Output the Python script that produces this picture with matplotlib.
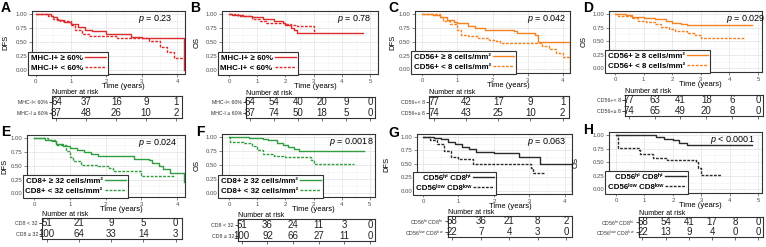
import matplotlib
matplotlib.use('Agg')
import matplotlib.pyplot as plt
from matplotlib.ticker import MultipleLocator

plt.rcParams['font.family'] = ['Liberation Sans', 'DejaVu Sans']
plt.rcParams['mathtext.fontset'] = 'custom'
plt.rcParams['mathtext.rm'] = 'Liberation Sans'
plt.rcParams['mathtext.it'] = 'Liberation Sans:italic'
plt.rcParams['mathtext.bf'] = 'Liberation Sans:bold'

W, H = 766, 247

# ---- survival curves (time in years, survival probability) ----
A_hi_t = [0, 0.45, 0.5, 0.6, 0.8, 1.0, 1.2, 1.4, 1.6, 2.0, 2.7, 3.0, 4.2, 4.2]
A_hi_s = [1.0, 0.97, 0.94, 0.9, 0.86, 0.82, 0.77, 0.72, 0.7, 0.65, 0.6, 0.58, 0.58, 0.0]
A_lo_t = [0, 0.35, 0.5, 0.7, 1.0, 1.1, 1.3, 1.5, 2.3, 3.2, 3.5, 3.7, 3.9, 4.2]
A_lo_s = [1.0, 0.96, 0.92, 0.88, 0.8, 0.72, 0.64, 0.61, 0.57, 0.52, 0.42, 0.33, 0.22, 0.2]

B_hi_t = [0, 0.1, 0.5, 0.8, 1.2, 1.6, 1.9, 2.0, 2.2, 2.3, 2.4, 4.75]
B_hi_s = [1.0, 0.98, 0.97, 0.95, 0.92, 0.88, 0.84, 0.8, 0.76, 0.72, 0.67, 0.67]
B_lo_t = [0, 0.3, 0.8, 1.1, 1.3, 2.0, 2.2, 2.4, 3.0, 3.05]
B_lo_s = [1.0, 0.96, 0.92, 0.88, 0.85, 0.83, 0.8, 0.78, 0.7, 0.7]

C_hi_t = [0, 0.3, 0.5, 0.7, 0.9, 1.0, 1.3, 1.5, 1.8, 2.6, 2.7, 3.2, 3.3, 4.2, 4.2]
C_hi_s = [1.0, 0.98, 0.95, 0.9, 0.86, 0.83, 0.78, 0.74, 0.72, 0.7, 0.65, 0.62, 0.5, 0.5, 0.0]
C_lo_t = [0, 0.5, 0.6, 0.8, 1.0, 1.1, 1.3, 1.6, 1.9, 2.1, 2.2, 3.3, 3.4, 3.6, 3.8, 4.0, 4.2]
C_lo_s = [1.0, 0.95, 0.88, 0.82, 0.72, 0.63, 0.6, 0.56, 0.54, 0.52, 0.48, 0.47, 0.43, 0.36, 0.3, 0.22, 0.22]

D_hi_t = [0, 0.4, 0.6, 1.0, 1.4, 1.8, 2.0, 2.3, 2.5, 4.8]
D_hi_s = [1.0, 0.98, 0.95, 0.93, 0.9, 0.87, 0.84, 0.82, 0.79, 0.79]
D_lo_t = [0, 0.1, 0.6, 0.8, 1.1, 1.4, 1.6, 1.9, 2.1, 2.5, 2.8, 3.0, 4.5]
D_lo_s = [1.0, 0.96, 0.93, 0.88, 0.85, 0.81, 0.77, 0.73, 0.69, 0.66, 0.62, 0.56, 0.56]

E_hi_t = [0, 0.3, 0.5, 0.6, 0.8, 1.0, 1.2, 1.4, 1.6, 1.8, 2.4, 2.8, 3.2, 3.3, 3.5, 3.6, 3.8, 4.2, 4.2]
E_hi_s = [1.0, 0.97, 0.95, 0.9, 0.86, 0.82, 0.79, 0.75, 0.72, 0.68, 0.67, 0.63, 0.6, 0.55, 0.5, 0.44, 0.37, 0.37, 0.2]
E_lo_t = [0, 0.4, 0.6, 0.9, 1.0, 1.1, 1.3, 1.8, 2.1, 2.2, 3.0, 3.9]
E_lo_s = [1.0, 0.96, 0.88, 0.76, 0.66, 0.58, 0.51, 0.5, 0.45, 0.4, 0.32, 0.32]

F_hi_t = [0, 0.7, 1.2, 1.4, 1.7, 1.9, 2.1, 2.3, 2.5, 4.8]
F_hi_s = [1.0, 0.99, 0.97, 0.94, 0.9, 0.86, 0.82, 0.78, 0.75, 0.75]
F_lo_t = [0, 0.05, 0.5, 0.8, 1.0, 1.2, 1.6, 2.0, 2.9, 3.0, 4.45]
F_lo_s = [1.0, 0.92, 0.9, 0.84, 0.77, 0.7, 0.67, 0.65, 0.6, 0.52, 0.52]

G_hi_t = [0, 0.3, 0.5, 0.7, 0.9, 1.1, 1.3, 1.5, 2.0, 2.7, 3.3, 4.2, 4.2]
G_hi_s = [1.0, 0.98, 0.96, 0.9, 0.86, 0.81, 0.77, 0.72, 0.7, 0.63, 0.5, 0.5, 0.0]
G_lo_t = [0, 0.2, 0.4, 0.6, 0.8, 1.0, 1.4, 3.0, 3.05, 3.1, 3.4]
G_lo_s = [1.0, 0.94, 0.86, 0.73, 0.62, 0.58, 0.5, 0.5, 0.42, 0.32, 0.32]

H_hi_t = [0, 1.3, 1.4, 1.7, 2.0, 2.2, 2.5, 4.8]
H_hi_s = [1.0, 1.0, 0.97, 0.93, 0.9, 0.86, 0.82, 0.82]
H_lo_t = [0, 0.05, 0.8, 0.85, 1.3, 1.8, 2.8, 2.9, 3.0, 3.7]
H_lo_s = [1.0, 0.77, 0.73, 0.66, 0.58, 0.54, 0.5, 0.4, 0.27, 0.27]

# ---- numbers at risk (top row, bottom row) ----
A_risk = [[64, 37, 16, 9, 1], [87, 48, 26, 10, 2]]
B_risk = [[64, 54, 40, 20, 9, 0], [87, 74, 50, 18, 5, 0]]
C_risk = [[77, 42, 17, 9, 1], [74, 43, 25, 10, 2]]
D_risk = [[77, 63, 41, 18, 6, 0], [74, 65, 49, 20, 8, 0]]
E_risk = [[51, 21, 9, 5, 0], [100, 64, 33, 14, 3]]
F_risk = [[51, 36, 24, 11, 3, 0], [100, 92, 66, 27, 11, 0]]
G_risk = [[58, 36, 21, 8, 2], [22, 7, 4, 3, 0]]
H_risk = [[58, 54, 41, 17, 8, 0], [22, 13, 9, 4, 0, 0]]

pvals = ['= 0.23', '= 0.78', '= 0.042', '= 0.029', '= 0.024', '= 0.0018', '= 0.063', '< 0.0001']

mhc_legend = ['MHC-I+ \u2265 60%', 'MHC-I+ < 60%']
mhc_rows = ['MHC-I< 60%', 'MHC-I \u2265 60%']
cd56_legend = ['CD56+ \u2265 8 cells/mm\u00b2', 'CD56+ < 8 cells/mm\u00b2']
cd56_rows = ['CD56+< 8', 'CD56+\u2265 8']
cd8_legend = ['CD8+ \u2265 32 cells/mm\u00b2', 'CD8+ < 32 cells/mm\u00b2']
cd8_rows = ['CD8 < 32', 'CD8 \u2265 32']
combo_legend = ['CD56\u02b0\u2071 CD8\u02b0\u2071', 'CD56\u02e1\u1d52\u02b7 CD8\u02e1\u1d52\u02b7']
combo_rows = [r'CD56$^{hi}$ CD8$^{hi}$', r'CD56$^{low}$ CD8$^{low}$']

RED, ORANGE, GREEN, BLACK = '#DD2C2C', '#F5821F', '#2E9E3E', '#2B2B2B'


def px_box(x0, y0, x1, y1):
    return [x0 / W, 1 - y1 / H, (x1 - x0) / W, (y1 - y0) / H]


def km_panel(fig, letter, lxy, plot_px, tab_px, xlim, tmax, ylab, ylab_px, color,
             curves, legend, rows, risk, pval, p_left_px):
    ax = fig.add_axes(px_box(*plot_px))
    w_px = plot_px[2] - plot_px[0]
    h_px = plot_px[3] - plot_px[1]
    styles = ['-', (0, (2, 1))]
    for (t, s), ls, lab in zip(curves, styles, legend):
        ax.step(t, s, where='post', color=color, lw=1.0, ls=ls, label=lab)
    ax.set_xlim(xlim)
    ax.set_ylim(-0.065, 1.055)
    ax.set_xticks(range(tmax + 1))
    ax.set_yticks([0, 0.25, 0.5, 0.75, 1.0])
    ax.set_yticklabels(['0.00', '0.25', '0.50', '0.75', '1.00'])
    ax.xaxis.set_minor_locator(MultipleLocator(0.5))
    ax.yaxis.set_minor_locator(MultipleLocator(0.125))
    ax.grid(which='major', color='#E6E6E6', lw=0.6)
    ax.grid(which='minor', color='#F2F2F2', lw=0.4)
    ax.set_axisbelow(True)
    ax.tick_params(which='major', labelsize=4.3, labelcolor='#4D4D4D',
                   color='#555555', length=2, width=0.5, pad=1.5)
    ax.tick_params(which='minor', length=0)
    for sp in ax.spines.values():
        sp.set_color('#333333')
        sp.set_linewidth(0.8)
    ax.set_ylabel(ylab, fontsize=5.5)
    ax.yaxis.set_label_coords((ylab_px + 3 - plot_px[0]) / w_px, 0.5)
    ax.set_xlabel('Time (years)', fontsize=5.5)
    ax.xaxis.set_label_coords(0.6, -9 / h_px)
    ax.text((p_left_px - plot_px[0]) / w_px, 0.87, r'$\it{p}$ ' + pval,
            fontsize=6.5, ha='left', va='center', transform=ax.transAxes)
    leg = ax.legend(loc='lower left', bbox_to_anchor=(-0.025, -0.01),
                    markerfirst=False, prop={'size': 5.7, 'weight': 'bold'},
                    handlelength=2.6, handletextpad=0.3, labelspacing=0.35,
                    borderpad=0.3, borderaxespad=0, fancybox=False,
                    framealpha=1, edgecolor='#333333')
    leg.get_frame().set_linewidth(0.8)

    fig.text(lxy[0] / W, 1 - lxy[1] / H, letter, fontsize=10,
             fontweight='bold', ha='left', va='top')

    tb = fig.add_axes(px_box(*tab_px))
    n = len(risk[0])
    tb.set_xlim(-0.15, n - 1 + 0.2)
    tb.set_ylim(0.5, 2.5)
    for i in range(n):
        tb.text(i, 2, str(risk[0][i]), fontsize=7, ha='center', va='center',
                color='#222222')
        tb.text(i, 1, str(risk[1][i]), fontsize=7, ha='center', va='center',
                color='#222222')
    tb.set_xticks(range(n))
    tb.set_yticks([2, 1])
    tb.set_yticklabels(rows)
    tb.tick_params(axis='x', labelbottom=False, length=2.5, width=0.5,
                   color='#333333')
    tb.tick_params(axis='y', labelsize=3.8, labelcolor='#333333',
                   length=2, width=0.5, pad=1)
    for sp in tb.spines.values():
        sp.set_color('#333333')
        sp.set_linewidth(0.8)
    tb.set_title('Number at risk', fontsize=5, loc='left', pad=1.5)


fig = plt.figure(figsize=(W / 100, H / 100), dpi=100)

km_panel(fig, 'A', (1, 1), (32, 11, 185, 74), (52, 96, 182, 118), (-0.1, 4.22), 4,
         'DFS', 6, RED, [(A_hi_t, A_hi_s), (A_lo_t, A_lo_s)], mhc_legend,
         mhc_rows, A_risk, pvals[0], 138)
km_panel(fig, 'B', (190, 1), (222, 11, 378, 74), (246, 97, 375, 118), (-0.25, 5.28), 5,
         'OS', 198, RED, [(B_hi_t, B_hi_s), (B_lo_t, B_lo_s)], mhc_legend,
         mhc_rows, B_risk, pvals[1], 337)
km_panel(fig, 'C', (388, 1), (415, 11, 570, 73), (429, 96, 569, 118), (-0.2, 4.2), 4,
         'DFS', 393, ORANGE, [(C_hi_t, C_hi_s), (C_lo_t, C_lo_s)], cd56_legend,
         cd56_rows, C_risk, pvals[2], 527)
km_panel(fig, 'D', (583, 1), (609, 11, 762, 72), (625, 95, 763, 116), (-0.21, 5.14), 5,
         'OS', 585, ORANGE, [(D_hi_t, D_hi_s), (D_lo_t, D_lo_s)], cd56_legend,
         cd56_rows, D_risk, pvals[3], 726)
km_panel(fig, 'E', (1, 125), (27, 135, 185, 197), (42, 218, 182, 239), (-0.2, 4.22), 4,
         'DFS', 5, GREEN, [(E_hi_t, E_hi_s), (E_lo_t, E_lo_s)], cd8_legend,
         cd8_rows, E_risk, pvals[4], 138)
km_panel(fig, 'F', (196, 125), (222, 134, 375, 197), (238, 219, 375, 241), (-0.25, 5.18), 5,
         'OS', 198, GREEN, [(F_hi_t, F_hi_s), (F_lo_t, F_lo_s)], cd8_legend,
         cd8_rows, F_risk, pvals[5], 329)
km_panel(fig, 'G', (388, 126), (417, 134, 572, 194), (448, 216, 572, 237), (-0.17, 4.2), 4,
         'DFS', 387, BLACK, [(G_hi_t, G_hi_s), (G_lo_t, G_lo_s)], combo_legend,
         combo_rows, G_risk, pvals[6], 527)
km_panel(fig, 'H', (583, 123), (609, 132, 762, 193), (639, 217, 763, 237), (-0.25, 5.14), 5,
         'OS', 577, BLACK, [(H_hi_t, H_hi_s), (H_lo_t, H_lo_s)], combo_legend,
         combo_rows, H_risk, pvals[7], 710)

fig.savefig('out.png', dpi=100)
